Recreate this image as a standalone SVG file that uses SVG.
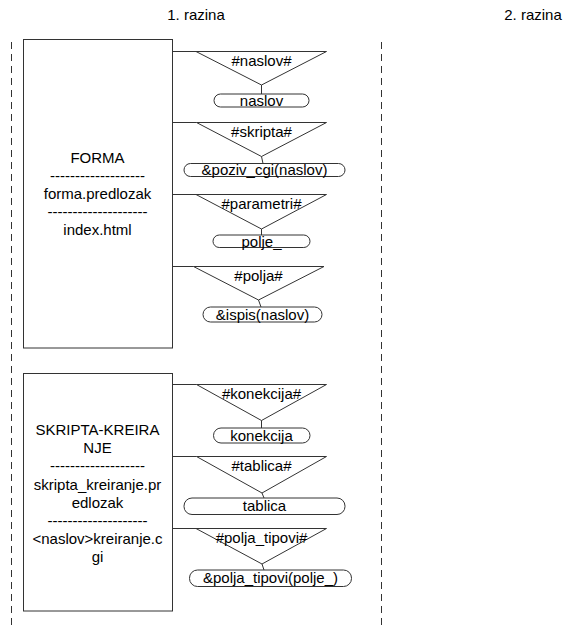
<svg xmlns="http://www.w3.org/2000/svg" width="568" height="628" viewBox="0 0 568 628">
<style>
text{font-family:"Liberation Sans",Arial,sans-serif;font-size:15px;fill:#000;text-anchor:middle}
.box{fill:#fff;stroke:#333;stroke-width:1}
.tri{fill:none;stroke:#333;stroke-width:1}
.oval{fill:#fff;stroke:#333;stroke-width:1}
.c{stroke:#333;stroke-width:1;fill:none}
.dash{stroke:#333;stroke-width:1;stroke-dasharray:7 5;fill:none}
</style>
<rect width="568" height="628" fill="#fff"/>
<g id="lanes">
<line class="dash" x1="11.5" y1="42" x2="11.5" y2="628"/>
<line class="dash" x1="381.5" y1="42" x2="381.5" y2="628"/>
<text x="196" y="20">1. razina</text>
<text x="533" y="20">2. razina</text>
</g>
<g id="connectors">
<line class="c" x1="172.5" y1="51.5" x2="196" y2="51.5"/>
<line class="c" x1="261.5" y1="85" x2="261.5" y2="94"/>
<line class="c" x1="172.5" y1="122.5" x2="196.5" y2="122.5"/>
<line class="c" x1="261.5" y1="156.5" x2="263" y2="163.5"/>
<line class="c" x1="172.5" y1="194.5" x2="196" y2="194.5"/>
<line class="c" x1="261.5" y1="229" x2="261.5" y2="235"/>
<line class="c" x1="168.5" y1="266.5" x2="193.5" y2="266.5"/>
<line class="c" x1="258.5" y1="300" x2="261" y2="307"/>
<line class="c" x1="172.5" y1="384.5" x2="196.5" y2="384.5"/>
<line class="c" x1="261.5" y1="420.5" x2="261.5" y2="428"/>
<line class="c" x1="172.5" y1="456.5" x2="196.5" y2="456.5"/>
<line class="c" x1="262" y1="493" x2="264" y2="498"/>
<line class="c" x1="172.5" y1="528.5" x2="196" y2="528.5"/>
<line class="c" x1="262" y1="564" x2="264" y2="570"/>
</g>
<g id="forma">
<rect class="box" x="23.5" y="39.5" width="149" height="308.5"/>
<text x="97.5" y="163">FORMA</text>
<text x="97.5" y="181">-------------------</text>
<text x="97.5" y="199">forma.predlozak</text>
<text x="97.5" y="217">--------------------</text>
<text x="97.5" y="235">index.html</text>
</g>
<g id="t-naslov">
<polygon class="tri" points="196,51.5 326.5,51.5 261.5,85"/>
<text x="261.5" y="65.5">#naslov#</text>
</g>
<g id="o-naslov">
<rect class="oval" x="214" y="94" width="95" height="13" rx="6.5"/>
<text x="261.5" y="105.5">naslov</text>
</g>
<g id="t-skripta">
<polygon class="tri" points="196.5,122.5 326.5,122.5 261.5,156.5"/>
<text x="261.5" y="137">#skripta#</text>
</g>
<g id="o-poziv">
<rect class="oval" x="184" y="163.5" width="161" height="13" rx="6.5"/>
<text x="264.5" y="175">&amp;poziv_cgi(naslov)</text>
</g>
<g id="t-parametri">
<polygon class="tri" points="196,194.5 326.5,194.5 261.5,229"/>
<text x="261.5" y="209">#parametri#</text>
</g>
<g id="o-polje">
<rect class="oval" x="213" y="235" width="97" height="12.5" rx="6.25"/>
<text x="261.5" y="246.5">polje_</text>
</g>
<g id="t-polja">
<polygon class="tri" points="193.5,266.5 324,266.5 258.5,300"/>
<text x="258.5" y="281">#polja#</text>
</g>
<g id="o-ispis">
<rect class="oval" x="203" y="307" width="119" height="15" rx="7.5"/>
<text x="262.5" y="319.5">&amp;ispis(naslov)</text>
</g>
<g id="skripta-kreiranje">
<rect class="box" x="23.5" y="373.5" width="149" height="237.5"/>
<text x="97.5" y="435">SKRIPTA-KREIRA</text>
<text x="97.5" y="453">NJE</text>
<text x="97.5" y="471">-------------------</text>
<text x="97.5" y="489.5">skripta_kreiranje.pr</text>
<text x="97.5" y="508">edlozak</text>
<text x="97.5" y="526">--------------------</text>
<text x="97.5" y="544">&lt;naslov&gt;kreiranje.c</text>
<text x="97.5" y="562">gi</text>
</g>
<g id="t-konekcija">
<polygon class="tri" points="196.5,384.5 326.5,384.5 261.5,420.5"/>
<text x="261.5" y="399">#konekcija#</text>
</g>
<g id="o-konekcija">
<rect class="oval" x="213.5" y="428" width="96.5" height="15" rx="7.5"/>
<text x="261.5" y="440.5">konekcija</text>
</g>
<g id="t-tablica">
<polygon class="tri" points="196.5,456.5 326.5,456.5 262,493"/>
<text x="261.5" y="471">#tablica#</text>
</g>
<g id="o-tablica">
<rect class="oval" x="184" y="498" width="161" height="16.5" rx="8"/>
<text x="264.5" y="511">tablica</text>
</g>
<g id="t-polja-tipovi">
<polygon class="tri" points="196,528.5 326.5,528.5 262,564"/>
<text x="261.5" y="543">#polja_tipovi#</text>
</g>
<g id="o-polja-tipovi">
<rect class="oval" x="189.5" y="570" width="162" height="16.5" rx="8"/>
<text x="270.5" y="583">&amp;polja_tipovi(polje_)</text>
</g>
</svg>
